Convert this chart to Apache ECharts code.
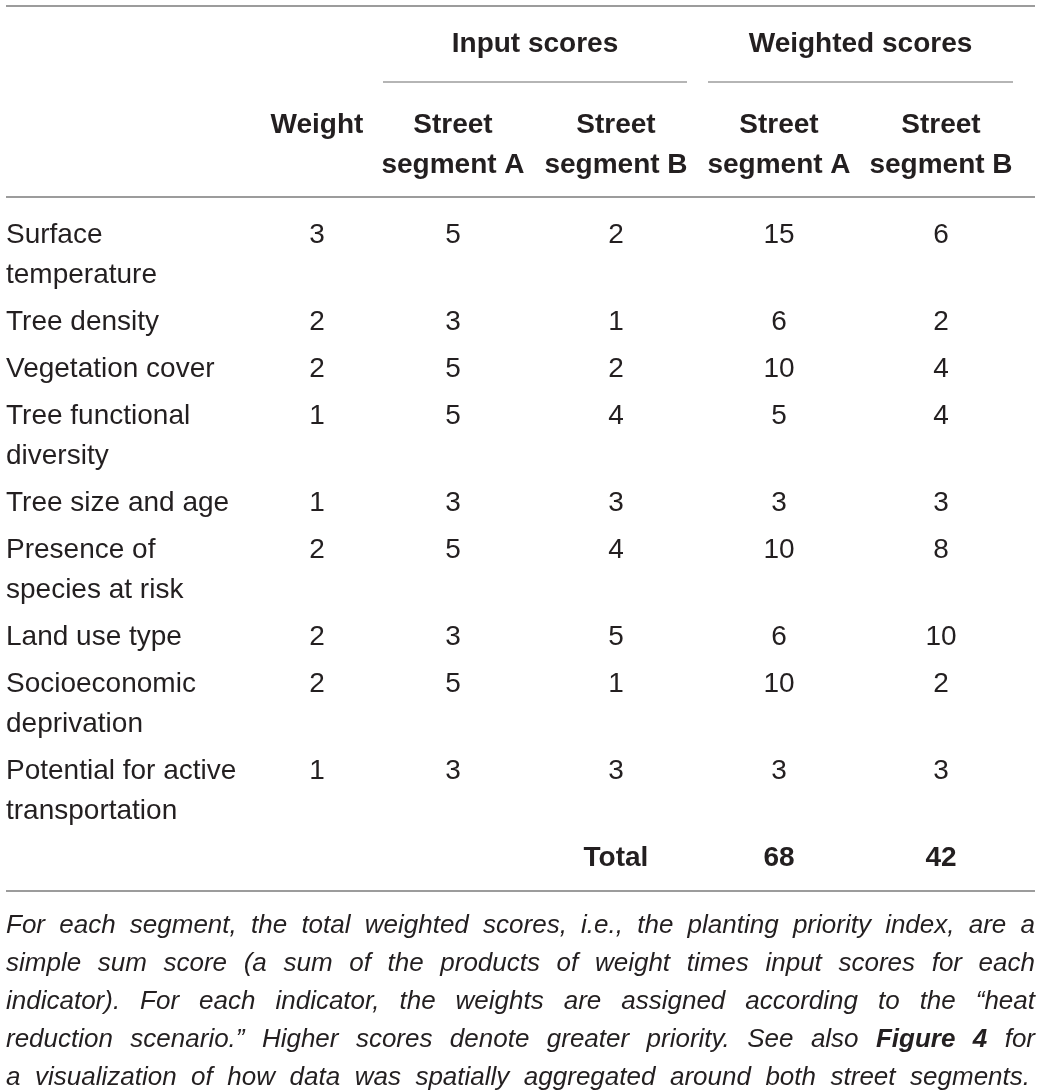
<!DOCTYPE html>
<html>
<head>
<meta charset="utf-8">
<title>Planting priority index table</title>
<script src="https://cdn.jsdelivr.net/npm/echarts@6.0.0/dist/echarts.min.js"></script>
<style>
  html, body { margin: 0; padding: 0; background: #fff; }
  #chart { width: 1041px; height: 1090px; }
</style>
</head>
<body>
<div id="chart"></div>
<script>
(function() {
  'use strict';

  // ---- table data ----
  var indicators = [
    'Surface\ntemperature',
    'Tree density',
    'Vegetation cover',
    'Tree functional\ndiversity',
    'Tree size and age',
    'Presence of\nspecies at risk',
    'Land use type',
    'Socioeconomic\ndeprivation',
    'Potential for active\ntransportation'
  ];
  var weights   = [3, 2, 2, 1, 1, 2, 2, 2, 1];
  var inputA    = [5, 3, 5, 5, 3, 5, 3, 5, 3];
  var inputB    = [2, 1, 2, 4, 3, 4, 5, 1, 3];
  var weightedA = [15, 6, 10, 5, 3, 10, 6, 10, 3];
  var weightedB = [6, 2, 4, 4, 3, 8, 10, 2, 3];
  var totalLabel = 'Total';
  var totals = [68, 42];

  var groupHeaders = ['Input scores', 'Weighted scores'];
  var columnHeaders = ['Weight', 'Street\nsegment A', 'Street\nsegment B', 'Street\nsegment A', 'Street\nsegment B'];

  var captionLines = [
    'For each segment, the total weighted scores, i.e., the planting priority index, are a',
    'simple sum score (a sum of the products of weight times input scores for each',
    'indicator). For each indicator, the weights are assigned according to the \u201cheat',
    'reduction scenario.\u201d Higher scores denote greater priority. See also Figure 4 for',
    'a visualization of how data was spatially aggregated around both street segments.'
  ];
  var captionBold = ['Figure', '4'];

  // ---- layout / style ----
  var FONT = '"Liberation Sans", Arial, Helvetica, sans-serif';
  var INK = '#231f20';
  var RULE = '#9c9c9c';
  var W = 1041, H = 1090;

  var tableLeft = 6, tableRight = 1035, lastCaptionRight = 1030;
  var colX = [317, 453, 616, 779, 941];       // weight, input A, input B, weighted A, weighted B
  var groupSpan = [[383, 687], [708, 1013]];
  var BODY_SIZE = 28, HEAD_SIZE = 28, CAP_SIZE = 26;
  var LINE_H = 40, ROW_PAD = 7, CAP_LINE_H = 38;

  var topRuleY = 6, groupTop = 24, groupRuleY = 82, headTop = 105, headRuleY = 197;
  var bodyTop = 215, bottomRuleGap = 53, captionTop = 907;

  var cells = [];
  var rules = [];

  function addCell(x, y, text, opt) {
    cells.push({
      x: x, y: y, text: String(text),
      align: opt.align || 'center',
      weight: opt.bold ? 'bold' : 'normal',
      italic: !!opt.italic,
      size: opt.size || BODY_SIZE,
      lh: opt.lh || LINE_H
    });
  }

  // rules
  rules.push([tableLeft, topRuleY, tableRight, 2]);
  groupSpan.forEach(function(s) { rules.push([s[0], groupRuleY, s[1], 1.6]); });
  rules.push([tableLeft, headRuleY, tableRight, 2]);

  // headers
  groupHeaders.forEach(function(h, i) {
    addCell((groupSpan[i][0] + groupSpan[i][1]) / 2, groupTop, h, { bold: true, size: HEAD_SIZE });
  });
  columnHeaders.forEach(function(h, i) {
    addCell(colX[i], headTop, h, { bold: true, size: HEAD_SIZE });
  });

  // body rows
  var y = bodyTop;
  indicators.forEach(function(name, i) {
    var lines = name.split('\n').length;
    addCell(tableLeft, y, name, { align: 'left' });
    [weights[i], inputA[i], inputB[i], weightedA[i], weightedB[i]].forEach(function(v, c) {
      addCell(colX[c], y, v, {});
    });
    y += lines * LINE_H + ROW_PAD;
  });

  // total row
  addCell(colX[2], y, totalLabel, { bold: true, size: HEAD_SIZE });
  totals.forEach(function(v, i) { addCell(colX[3 + i], y, v, { bold: true, size: HEAD_SIZE }); });
  rules.push([tableLeft, y + bottomRuleGap, tableRight, 2]);

  // caption: justified, word by word
  var ctx = document.createElement('canvas').getContext('2d');
  function wordWidth(w, bold) {
    ctx.font = 'italic ' + (bold ? 'bold ' : '') + CAP_SIZE + 'px ' + FONT;
    return ctx.measureText(w).width;
  }
  captionLines.forEach(function(line, li) {
    var words = line.split(' ');
    var widths = words.map(function(w) { return wordWidth(w, captionBold.indexOf(w) >= 0); });
    var sum = widths.reduce(function(a, b) { return a + b; }, 0);
    var right = li === captionLines.length - 1 ? lastCaptionRight : tableRight;
    var gap = (right - tableLeft - sum) / (words.length - 1);
    var x = tableLeft;
    var ly = captionTop + li * CAP_LINE_H;
    words.forEach(function(w, wi) {
      addCell(x, ly, w, { align: 'left', italic: true, bold: captionBold.indexOf(w) >= 0, size: CAP_SIZE, lh: CAP_LINE_H });
      x += widths[wi] + gap;
    });
  });

  var chart = echarts.init(document.getElementById('chart'), null, { renderer: 'canvas' });

  chart.setOption({
    animation: false,
    backgroundColor: '#fff',
    grid: { left: 0, right: 0, top: 0, bottom: 0 },
    xAxis: { type: 'value', min: 0, max: W, show: false },
    yAxis: { type: 'value', min: 0, max: H, inverse: true, show: false },
    series: [
      {
        type: 'custom',
        silent: true,
        clip: false,
        data: rules.map(function(r) { return [r[0], r[1], r[2], r[3]]; }),
        renderItem: function(params, api) {
          var a = api.coord([api.value(0), api.value(1)]);
          var b = api.coord([api.value(2), api.value(1)]);
          return {
            type: 'line',
            shape: { x1: a[0], y1: a[1], x2: b[0], y2: b[1] },
            style: { stroke: RULE, lineWidth: api.value(3) }
          };
        }
      },
      {
        type: 'custom',
        silent: true,
        clip: false,
        data: cells.map(function(c) { return [c.x, c.y]; }),
        renderItem: function(params, api) {
          var c = cells[params.dataIndex];
          var p = api.coord([api.value(0), api.value(1)]);
          return {
            type: 'text',
            x: p[0],
            y: p[1],
            style: {
              text: c.text,
              fill: INK,
              fontSize: c.size,
              fontFamily: FONT,
              fontWeight: c.weight,
              fontStyle: c.italic ? 'italic' : 'normal',
              align: c.align,
              verticalAlign: 'top',
              lineHeight: c.lh
            }
          };
        }
      }
    ]
  });

  window.addEventListener('resize', function() { chart.resize(); });
})();
</script>
</body>
</html>
